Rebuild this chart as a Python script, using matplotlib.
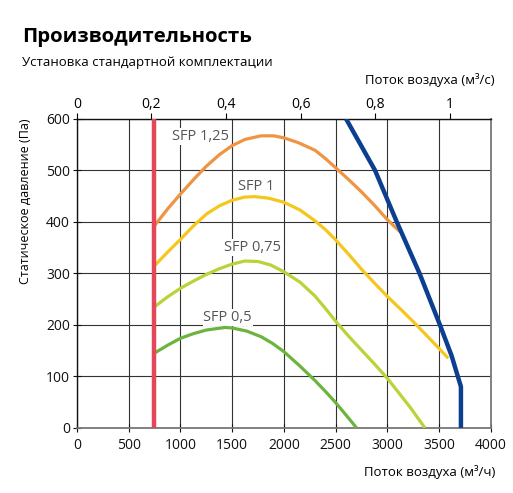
import matplotlib
matplotlib.use("Agg")
import matplotlib.pyplot as plt
from matplotlib.ticker import MultipleLocator, FixedLocator

plt.rcParams['font.family'] = ['Open Sans', 'DejaVu Sans']

# values (m3/h, Pa)
red_x = [740, 740]
red_y = [0, 600]

blue_x = [2600, 2740, 2880, 3090, 3310, 3507, 3620, 3710, 3710]
blue_y = [600, 550, 500, 400, 300, 200, 140, 80, 0]

sfp125_x = [755, 880, 1000, 1140, 1250, 1380, 1500, 1623, 1780, 1900, 2000, 2135,
            2300, 2400, 2500, 2625, 2750, 2875, 3000, 3120]
sfp125_y = [394, 426, 454, 485, 508, 531, 548, 560, 567, 567, 563, 554,
            539, 523, 505, 482, 458, 432, 404, 381]

sfp1_x = [755, 880, 1000, 1125, 1250, 1375, 1500, 1620, 1716, 1850, 2000, 2155,
          2300, 2400, 2500, 2625, 2750, 2875, 3000, 3140, 3280, 3390, 3500, 3588]
sfp1_y = [316, 342, 366, 392, 415, 431, 442, 448, 449, 446, 438, 423,
          402, 385, 365, 337, 308, 281, 255, 228, 200, 177, 154, 135]

sfp075_x = [755, 880, 1000, 1125, 1250, 1375, 1500, 1623, 1750, 1875, 2000, 2155,
            2300, 2400, 2500, 2625, 2750, 2875, 3000, 3216, 3362]
sfp075_y = [236, 255, 271, 285, 298, 309, 318, 324, 323, 316, 303, 283,
            256, 232, 207, 178, 151, 124, 96, 41, 0]

sfp05_x = [755, 880, 1000, 1125, 1250, 1430, 1500, 1640, 1780, 1890, 2000, 2155,
           2300, 2400, 2500, 2600, 2702]
sfp05_y = [146, 161, 174, 183, 190, 195, 194, 188, 177, 164, 148, 120,
           92, 71, 49, 25, 0]

curves = [
    (sfp125_x, sfp125_y, '#ee9442', 'SFP 1,25', 1195, 566),
    (sfp1_x, sfp1_y, '#f5c71e', 'SFP 1', 1735, 468),
    (sfp075_x, sfp075_y, '#b8d439', 'SFP 0,75', 1695, 350),
    (sfp05_x, sfp05_y, '#6db43f', 'SFP 0,5', 1456, 214),
]

fig = plt.figure(figsize=(5.13, 4.93), dpi=100)
ax = fig.add_axes([0.150, 0.132, 0.807, 0.627])

ax.set_xlim(0, 4000)
ax.set_ylim(0, 600)
ax.xaxis.set_major_locator(MultipleLocator(500))
ax.yaxis.set_major_locator(MultipleLocator(100))
ax.grid(True, color='#333333', lw=0.8)
ax.set_axisbelow(True)

for xs, ys, col, lab, tx, ty in curves:
    ax.plot(xs, ys, color=col, lw=2.3, solid_capstyle='butt', solid_joinstyle='round', zorder=3)
    ax.text(tx, ty, lab, color='#555555', fontsize=10.5, ha='center', va='center',
            bbox=dict(facecolor='white', edgecolor='none', pad=0.5), zorder=2)

ax.plot(red_x, red_y, color='#e4465a', lw=3.2, solid_capstyle='butt', zorder=4)
ax.plot(blue_x, blue_y, color='#0d3f91', lw=3.2, solid_capstyle='butt',
        solid_joinstyle='round', zorder=4)

for s in ['left', 'top']:
    ax.spines[s].set_color('#111111')
    ax.spines[s].set_linewidth(1.0)
for s in ['bottom', 'right']:
    ax.spines[s].set_color('#777777')
    ax.spines[s].set_linewidth(1.3)

ax.tick_params(axis='both', direction='inout', length=6, width=0.8, labelsize=10,
               colors='#111111', pad=2)
ax.tick_params(axis='x', pad=4)

sec = ax.secondary_xaxis('top', functions=(lambda x: x / 3600, lambda x: x * 3600))
sec.xaxis.set_major_locator(FixedLocator([0, 0.2, 0.4, 0.6, 0.8, 1.0]))
sec.set_xticklabels(['0', '0,2', '0,4', '0,6', '0,8', '1'])
sec.tick_params(direction='out', length=4, width=0.8, labelsize=10, pad=1)
sec.spines['top'].set_visible(False)

ax.set_ylabel('Статическое давление (Па)', fontsize=9, labelpad=6)
ax.yaxis.set_label_coords(-0.108, 0.733)

fig.text(0.043, 0.925, 'Производительность', fontsize=14.7, fontweight='bold',
         ha='left', va='center')
fig.text(0.043, 0.874, 'Установка стандартной комплектации', fontsize=9.5,
         ha='left', va='center')
fig.text(0.965, 0.838, 'Поток воздуха (м³/с)', fontsize=9.5, ha='right', va='center')
fig.text(0.965, 0.043, 'Поток воздуха (м³/ч)', fontsize=9.5, ha='right', va='center')

fig.savefig('out.png', dpi=100)
